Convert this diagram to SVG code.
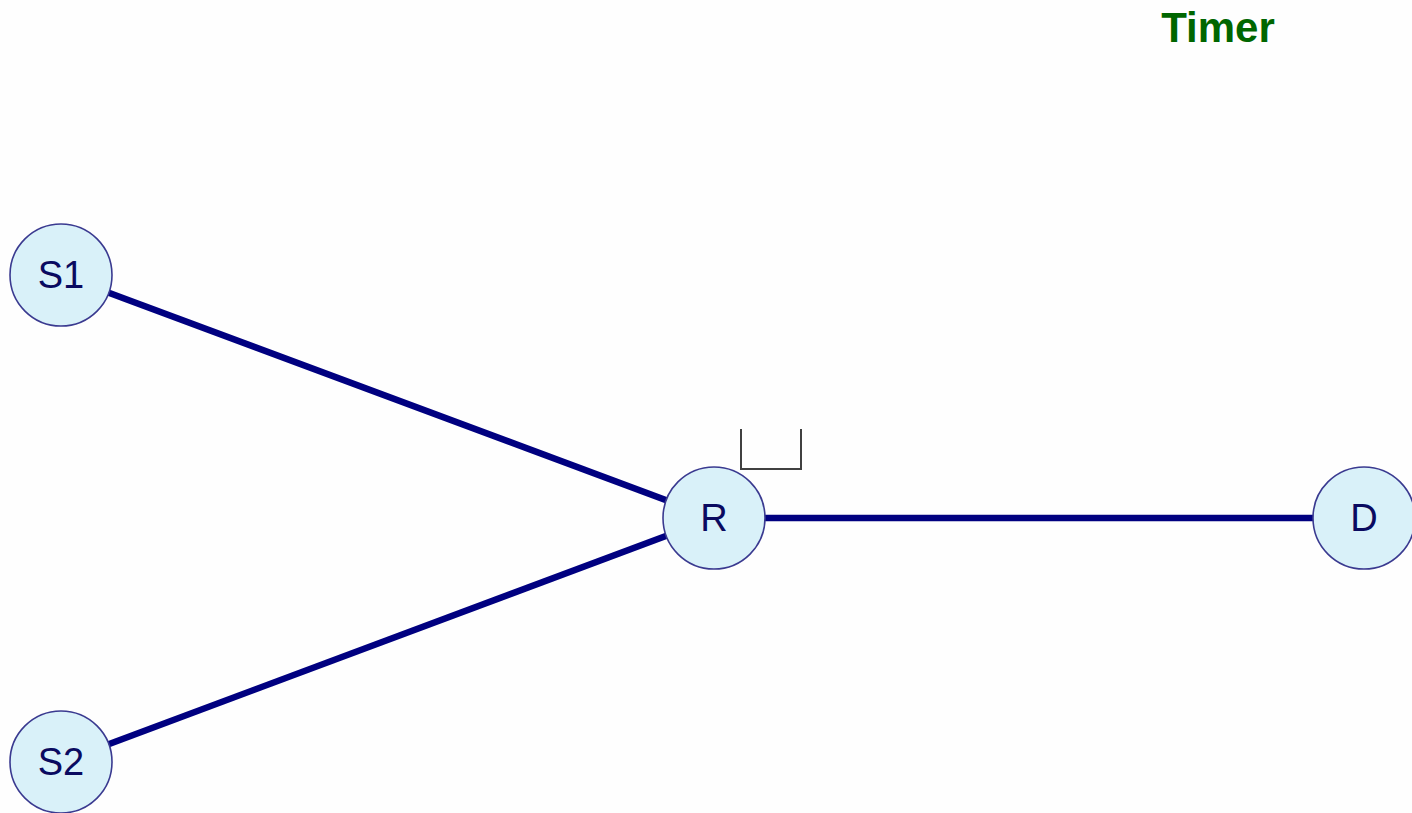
<svg xmlns="http://www.w3.org/2000/svg" width="1412" height="813" viewBox="0 0 1412 813">
<style>
.edge{stroke:#000080;stroke-width:6.5;fill:none}
.node circle{fill:#d9f1f9;stroke:#3a3a90;stroke-width:1.6}
.node text{font-family:"Liberation Sans",Arial,sans-serif;font-size:38px;fill:#0a0a60;text-anchor:middle}
</style>
<rect width="1412" height="813" fill="#fefefe"/>
<text x="1218" y="42" font-family="Liberation Sans,Arial,sans-serif" font-weight="bold" font-size="42" fill="#006600" text-anchor="middle">Timer</text>
<g id="connectors">
<line class="edge" x1="61" y1="275" x2="714" y2="518"/>
<line class="edge" x1="61" y1="762" x2="714" y2="518"/>
<line class="edge" x1="714" y1="518" x2="1364" y2="518"/>
</g>
<path id="bracket" d="M741,429 V469 H801 V429" fill="none" stroke="#404040" stroke-width="2"/>
<g id="S1" class="node"><circle cx="61" cy="275" r="51"/><text x="61" y="288">S1</text></g>
<g id="S2" class="node"><circle cx="61" cy="762" r="51"/><text x="61" y="775">S2</text></g>
<g id="R" class="node"><circle cx="714" cy="518" r="51"/><text x="714" y="531">R</text></g>
<g id="D" class="node"><circle cx="1364" cy="518" r="51"/><text x="1364" y="531">D</text></g>
</svg>
